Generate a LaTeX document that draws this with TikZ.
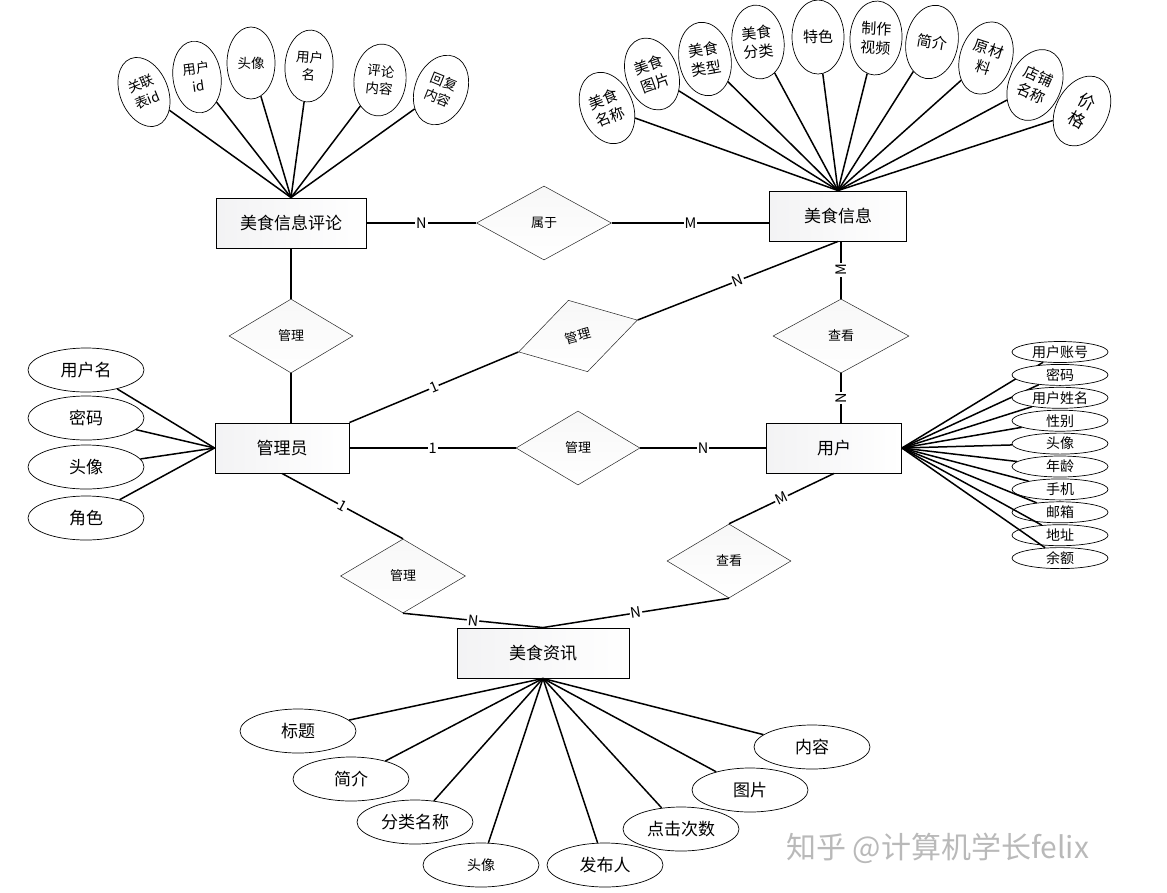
\documentclass[tikz,border=0pt]{standalone}
\usepackage{fontspec}
\setmainfont{Noto Sans CJK SC}
\usetikzlibrary{shapes.geometric}
\begin{document}
\begin{tikzpicture}[x=1pt,y=-1pt,
 ent/.style={draw=black, line width=0.9pt, rectangle, minimum height=50pt, inner sep=0pt, left color=blue!6!gray!9, right color=white, font=\fontsize{17}{20}\selectfont},
 rel/.style={draw=black!85, line width=0.5pt, diamond, inner sep=0pt, top color=gray!6, bottom color=white, font=\fontsize{13}{15}\selectfont},
 att/.style={draw=black, line width=0.7pt, ellipse, inner sep=0pt, fill=white, align=center, font=\fontsize{15}{19}\selectfont},
 tall/.style={att, minimum width=52pt, minimum height=74pt},
 tl/.style={att, minimum width=48pt, minimum height=72pt, font=\fontsize{13.5}{17.5}\selectfont},
 wide/.style={att, minimum width=116pt, minimum height=44pt, font=\fontsize{17}{19}\selectfont},
 slim/.style={att, minimum width=96pt, minimum height=21pt, font=\fontsize{14}{15}\selectfont},
 conn/.style={line width=1.5pt},
 card/.style={fill=white, inner sep=1pt, font=\fontsize{14.5}{14.5}\selectfont},
]
\useasboundingbox (0,0) rectangle (1167,892);

% entities
\node[ent, minimum width=150pt] (pl) at (291,223) {美食信息评论};
\node[ent, minimum width=137pt] (ms) at (838,216) {美食信息};
\node[ent, minimum width=134pt] (gly) at (282,448) {管理员};
\node[ent, minimum width=135pt] (yh) at (834,448) {用户};
\node[ent, minimum width=172pt] (zx) at (543,653) {美食资讯};

% relationships
\node[rel, minimum width=135pt, minimum height=74pt] (sy) at (544,223) {属于};
\node[rel, minimum width=124pt, minimum height=74pt] (gl1) at (291,336) {管理};
\node[rel, minimum width=123pt, minimum height=74pt, rotate=15] (gl2) at (578,336) {管理};
\node[rel, minimum width=124pt, minimum height=74pt] (gl3) at (578,448) {管理};
\node[rel, minimum width=136pt, minimum height=74pt] (ck1) at (841,336) {查看};
\node[rel, minimum width=124pt, minimum height=74pt] (ck2) at (729,561) {查看};
\node[rel, minimum width=125pt, minimum height=74pt] (gl4) at (403,576) {管理};

% relationship connectors
\draw[conn] (pl.east) -- node[card]{N} (sy.west);
\draw[conn] (sy.east) -- node[card]{M} (ms.west |- sy.east);
\draw[conn] (pl.south) -- (gl1.north);
\draw[conn] (gl1.south) -- (gl1.south |- gly.north);
\draw[conn] (gly.north east) -- node[card, sloped]{1} (gl2.west);
\draw[conn] (gl2.east) -- node[card, sloped]{N} (ms.south);
\draw[conn] (ck1.north) -- node[card, rotate=90]{M} (ck1.north |- ms.south);
\draw[conn] (ck1.south) -- node[card, rotate=90]{N} (ck1.south |- yh.north);
\draw[conn] (gly.east) -- node[card]{1} (gl3.west);
\draw[conn] (gl3.east) -- node[card]{N} (yh.west);
\draw[conn] (gly.south) -- node[card, sloped]{1} (gl4.north);
\draw[conn] (gl4.south) -- node[card, sloped]{N} (zx.north);
\draw[conn] (ck2.south) -- node[card, sloped]{N} (zx.north);
\draw[conn] (yh.south) -- node[card, sloped]{M} (ck2.north);

% attributes of 美食信息评论
\node[tl, rotate=22] (p1) at (144,92) {关联\\表id};
\node[tl, rotate=8] (p2) at (197,77) {用户\\id};
\node[tl] (p3) at (251,63) {头像};
\node[tl, rotate=-4] (p4) at (309,66) {用户\\名};
\node[tl, rotate=-6, minimum width=52pt] (p5) at (380,80) {评论\\内容};
\node[tl, rotate=-22, minimum width=52pt] (p6) at (441,90) {回复\\内容};
\foreach \n in {p1,p2,p3,p4,p5,p6} \draw[conn] (pl.north) -- (\n);

% attributes of 美食信息
\node[tall, rotate=22] (m1) at (607,108) {美食\\名称};
\node[tall, rotate=20] (m2) at (652,74) {美食\\图片};
\node[tall, rotate=10] (m3) at (705,59) {美食\\类型};
\node[tall, rotate=7] (m4) at (758,42) {美食\\分类};
\node[tall] (m5) at (818,37) {特色};
\node[tall, rotate=-3] (m6) at (876,38) {制作\\视频};
\node[tall, rotate=-10] (m7) at (932,42) {简介};
\node[tall, rotate=-18] (m8) at (986,58) {原材\\料};
\node[tall, rotate=-24] (m9) at (1035,85) {店铺\\名称};
\node[tall, rotate=-28, font=\fontsize{17}{20}\selectfont] (m10) at (1082,111) {价\\格};
\foreach \n in {m1,m2,m3,m4,m5,m6,m7,m8,m9,m10} \draw[conn] (ms.north) -- (\n);

% attributes of 用户
\foreach \t [count=\i from 0] in {用户账号,密码,用户姓名,性别,头像,年龄,手机,邮箱,地址,余额}{
  \node[slim] (u\i) at (1060,352+22.9*\i) {\t};
  \draw[conn] (yh.east) -- (u\i);
}

% attributes of 管理员
\node[wide] (g1) at (86,370) {用户名};
\node[wide] (g2) at (86,418) {密码};
\node[wide] (g3) at (86,467) {头像};
\node[wide] (g4) at (86,518) {角色};
\foreach \n in {g1,g2,g3,g4} \draw[conn] (gly.west) -- (\n);

% attributes of 美食资讯
\node[wide] (z1) at (298,731) {标题};
\node[wide] (z2) at (351,779) {简介};
\node[wide] (z3) at (415,822) {分类名称};
\node[wide, font=\fontsize{14}{16}\selectfont] (z4) at (481,865) {头像};
\node[wide] (z5) at (605,865) {发布人};
\node[wide] (z6) at (681,829) {点击次数};
\node[wide] (z7) at (750,790) {图片};
\node[wide] (z8) at (812,747) {内容};
\foreach \n in {z1,z2,z3,z4,z5,z6,z7,z8} \draw[conn] (zx.south) -- (\n);

% watermark
\node[text=gray!55, font=\fontsize{30}{30}\selectfont, anchor=west, inner sep=0pt] (wm) at (786,848) {知乎 @计算机学长felix};
\end{tikzpicture}
\end{document}
